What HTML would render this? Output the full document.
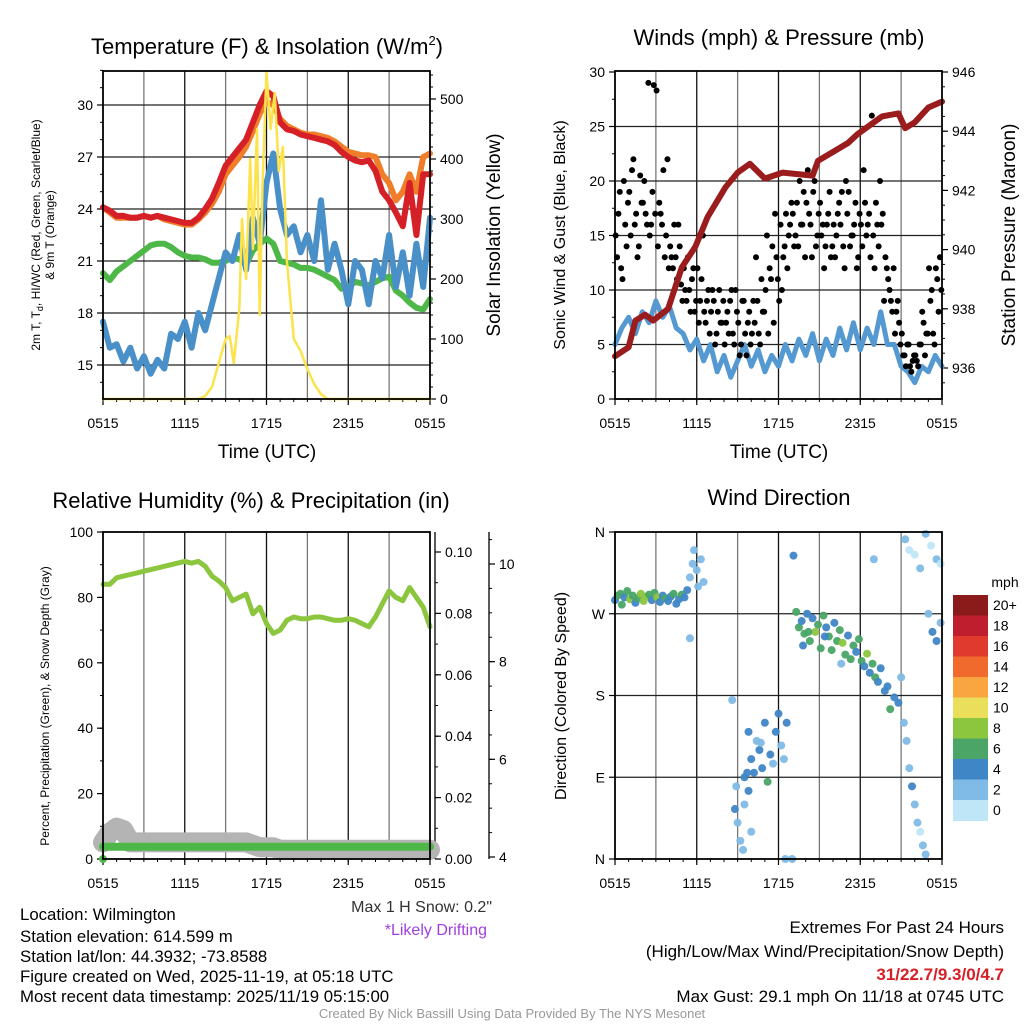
<!DOCTYPE html>
<html><head><meta charset="utf-8"><style>
body{margin:0;background:#fff}
svg{display:block;font-family:"Liberation Sans",sans-serif}
</style></head><body>
<svg id="c" width="1024" height="1024" xmlns="http://www.w3.org/2000/svg">
<g id="g"></g>
<text x="267" y="54" font-size="22" text-anchor="middle">Temperature (F) &amp; Insolation (W/m<tspan font-size="13" dy="-9">2</tspan><tspan dy="9">)</tspan></text>
<text x="779" y="45" font-size="22" text-anchor="middle">Winds (mph) &amp; Pressure (mb)</text>
<text x="251" y="508" font-size="22" text-anchor="middle">Relative Humidity (%) &amp; Precipitation (in)</text>
<text x="779" y="505" font-size="22" text-anchor="middle">Wind Direction</text>
<text x="267" y="458" font-size="19" text-anchor="middle">Time (UTC)</text>
<text x="779" y="458" font-size="19" text-anchor="middle">Time (UTC)</text>
<text transform="translate(40,235) rotate(-90)" font-size="12" text-anchor="middle">2m T, T<tspan font-size="9" dy="3">d</tspan><tspan dy="-3">, HI/WC (Red, Green, Scarlet/Blue)</tspan></text>
<text transform="translate(54,235) rotate(-90)" font-size="12" text-anchor="middle">&amp; 9m T (Orange)</text>
<text transform="translate(500,235) rotate(-90)" font-size="19" text-anchor="middle">Solar Insolation (Yellow)</text>
<text transform="translate(565,235) rotate(-90)" font-size="16" text-anchor="middle">Sonic Wind &amp; Gust (Blue, Black)</text>
<text transform="translate(1015,235) rotate(-90)" font-size="19" text-anchor="middle">Station Pressure (Maroon)</text>
<text transform="translate(49,706) rotate(-90)" font-size="12" text-anchor="middle">Percent, Precipitation (Green), &amp; Snow Depth (Gray)</text>
<text transform="translate(566,696) rotate(-90)" font-size="16" text-anchor="middle">Direction (Colored By Speed)</text>
<text x="492" y="912" font-size="16" text-anchor="end" fill="#333">Max 1 H Snow: 0.2"</text>
<text x="487" y="935" font-size="16" text-anchor="end" fill="#a040e0">*Likely Drifting</text>
<g font-size="16.8">
<text x="20" y="920">Location: Wilmington</text>
<text x="20" y="942">Station elevation: 614.599 m</text>
<text x="20" y="962">Station lat/lon: 44.3932; -73.8588</text>
<text x="20" y="982">Figure created on Wed, 2025-11-19, at 05:18 UTC</text>
<text x="20" y="1002">Most recent data timestamp: 2025/11/19 05:15:00</text>
</g>
<g font-size="17" text-anchor="end">
<text x="1004" y="933">Extremes For Past 24 Hours</text>
<text x="1004" y="957">(High/Low/Max Wind/Precipitation/Snow Depth)</text>
<text x="1004" y="980" fill="#d62027" font-weight="bold">31/22.7/9.3/0/4.7</text>
<text x="1004" y="1002">Max Gust: 29.1 mph On 11/18 at 0745 UTC</text>
</g>
<text x="512" y="1018" font-size="13" fill="#999" text-anchor="middle">Created By Nick Bassill Using Data Provided By The NYS Mesonet</text>
</svg>
<script>
// ---- data (hours since 0515 UTC) ----
const tHours=[0,0.5,1,1.5,2,2.5,3,3.5,4,4.5,5,5.5,6,6.5,7,7.5,8,8.5,9,9.5,10,10.5,11,11.5,12,12.5,13,13.5,14,14.5,15,15.5,16,16.5,17,17.5,18,18.5,19,19.5,20,20.5,21,21.5,22,22.5,23,23.5,24];
const tempRed=[24.1,23.9,23.6,23.6,23.5,23.5,23.6,23.5,23.6,23.5,23.4,23.3,23.2,23.2,23.5,24,24.6,25.5,26.5,27,27.5,28,29,30,30.8,30.5,29,28.6,28.5,28.3,28.2,28.1,28,27.9,27.7,27.3,27,26.8,26.7,26.8,26.2,25,24.5,23.8,23,25.5,22.5,26,26];
const tempOrange=[24.1,23.8,23.5,23.5,23.5,23.5,23.6,23.5,23.6,23.4,23.3,23.2,23.1,23.1,23.4,23.8,24.3,25,26,26.5,27,27.6,28.5,29.5,30.2,30,29.2,28.8,28.6,28.4,28.3,28.3,28.2,28.1,27.9,27.6,27.3,27.2,27.1,27.1,27,26,25.5,24.5,25,26,25,27,27.2];
const tempGreen=[20.3,19.9,20.4,20.7,21,21.3,21.6,21.9,22,22,21.8,21.5,21.3,21.2,21.2,21.1,20.9,20.9,21,21.2,21.1,20.8,21.6,22,22.3,22,21,20.9,20.8,20.6,20.6,20.5,20.3,20.1,19.9,19.4,19.5,19.8,19.7,19.6,19.8,20,20.1,19.3,19,18.6,18.3,18.2,18.8];
const tempBlue=[17.5,16,16.2,15.2,16,14.8,15.5,14.5,15.3,14.8,16.8,16.5,17.5,16,18,17,18.5,20,21.5,21,22.5,20.5,23.5,22,25.5,27.2,24,22.5,23,21.5,22.5,21,24.5,20.5,22,20.5,18.5,21,20.5,18.5,21,20,22.5,19.5,21.5,19,22,19.5,23.5];
const solarHours=[0,7,7.5,8,8.5,9,9.3,9.6,10,10.2,10.5,10.8,11,11.3,11.5,11.7,12,12.3,12.6,12.9,13.2,13.5,14,14.5,15,15.5,16,16.5,24];
const solarVals=[0,0,5,20,60,100,105,60,150,300,200,400,250,450,140,350,545,450,510,380,420,230,100,80,50,25,8,0,0];
const windVals=[5,6.5,7.5,6,8,7,9,7.5,8.5,6.5,6,4.5,5.5,3.5,5,2.5,4,2,3.5,5,3,4.5,2.5,4,3,5,3.5,5.5,4,6,3.5,5.5,4,6.5,4.5,7,4.5,6.5,5,8,5,5,3,2.5,1.5,3,2.5,4,3];
const presHours=[0,1,1.5,2.2,2.8,3.9,4.9,5.9,6.8,8.1,9,9.9,11,12.3,14.5,14.9,17.1,17.8,19.6,20.8,21.3,22,23,24];
const presVals=[936.4,936.7,937.6,937.8,937.6,938,939.4,940.1,941.1,942.1,942.6,942.9,942.4,942.6,942.5,943,943.6,943.9,944.5,944.6,944.1,944.3,944.8,945];
// gusts sampled every 6 minutes, 10 per hour
const gustVals=[
15,13,17,19,12,11,20,16,14,18,
19,15,21,22,16,17,13,14,20.5,18,
18,20,17,16,29,15,16,19,28.8,17,
28.3,14,18,17,16,21,13,15,22,12,
14,13,12,16,13,11,16,14,10.5,9,
12,10,9,13,10,8,11,12,8,9,
12,7,9,11,15,8,7,9,10,6,
8,10,9,5,6,8,10,7,7,9,
5,7,8,6,9,10,6,5,10,8,
7,4,5,9,9,6,4,7,8,5,
6,9,7,13,9,6,5,11,8,8,
10,15,6,12,11,14,7,17,13,11,
9,16,10,13,14,17,12,15,16,18,
17,14,15,18,14,20,16,16,19,13,
18,21,17,16,13,19,20,14,15,17,
18,15,16,12,14,16,17,19,13,14,
16,13,15,17,18,16,19,14,12,20,
17,19,14,15,15,16,18,12,13,17,
16,14,21,18,15,16,17,13,26,15,
12,18,16,14,20,16,17,9,13,12,
11,10,9,8,12,6,8,9,7,5,
6,4,4,3,5,5,3,2.5,3.5,4,
4,3.5,3,5,5,8,7,4,6,6,
12,9,10,6,5,12,11,8,13,10];
const gustHours=gustVals.map((v,i)=>0.05+i*0.1);
const rhVals=[84,84,86,86.5,87,87.5,88,88.5,89,89.5,90,90.5,91,90.5,91,89.5,86.5,85,83,79,80,81,75,77,72,69,70,73,74,73.5,73.5,74,74,73.5,73,73,73.5,73,72,71,74,78,82,80,79,83,80,77,71];
const precipVals=[0.004,0.004,0.004,0.004,0.004,0.004,0.004,0.004,0.004,0.004,0.004,0.004,0.004,0.004,0.004,0.004,0.004,0.004,0.004,0.004,0.004,0.004,0.004,0.004,0.004,0.004,0.004,0.004,0.004,0.004,0.004,0.004,0.004,0.004,0.004,0.004,0.004,0.004,0.004,0.004,0.004,0.004,0.004,0.004,0.004,0.004,0.004,0.004,0.004];
const snowVals=[4.3,4.5,4.6,4.55,4.3,4.3,4.3,4.3,4.3,4.3,4.3,4.3,4.3,4.3,4.3,4.3,4.3,4.3,4.3,4.3,4.3,4.3,4.25,4.2,4.2,4.2,4.15,4.15,4.15,4.15,4.15,4.15,4.15,4.15,4.15,4.15,4.15,4.15,4.15,4.15,4.15,4.15,4.15,4.15,4.15,4.15,4.15,4.15,4.15];
const dirHours=[0,0.2,0.4,0.5,0.7,0.9,1.1,1.3,1.5,1.7,1.9,2.1,2.3,2.5,2.7,2.9,3.1,3.3,3.5,3.7,3.9,4.1,4.3,4.5,4.7,4.9,5.1,5.3,5.5,5.7,5.8,6,6.1,6.3,5.5,6.5,8.6,9.5,9.8,10,10.2,10.4,10.6,10.8,11,11.2,11.4,11.6,11.8,12,12.2,12.4,12.6,9.5,9,9.2,9.4,9.8,10,8.8,8.9,10.7,9.7,12.5,13.1,13,13.3,13.5,13.7,13.9,14.1,14.3,14.5,14.7,14.9,15.1,15.3,15.5,15.7,15.9,16.1,16.3,16.5,16.7,16.9,17.1,17.3,17.5,17.7,17.9,18.1,18.3,18.5,18.7,18.9,19.1,19.3,19.5,19.8,20,20.2,20.5,20.8,19,21,21.2,21.4,21.6,21.8,22,22.2,22.4,22.6,22.8,21.3,21.6,22,22.4,22.8,23.2,23.6,23.9,23,23.3,23.6,23.9,13.8,14.2,15.4,16.6,17.8,18.4];
const dirVals=[285,290,292,280,288,295,286,290,282,287,292,284,289,291,285,293,288,283,290,287,284,289,292,281,286,291,288,296,310,325,340,318,300,330,243,305,175,90,140,110,95,130,120,100,150,85,115,105,140,160,125,110,150,60,40,20,10,75,30,55,80,128,95,0,334,0,272,255,262,248,270,240,265,250,258,232,268,255,245,230,260,240,252,238,225,246,220,235,228,242,218,212,226,205,215,200,195,210,185,190,165,178,172,330,200,150,130,100,80,60,40,30,15,5,352,340,335,320,358,345,330,325,270,250,240,260,235,250,245,215];
const dirSpeeds=[5,6,7,6.5,5,7,8,6,5,7,9,8,9,7,5,6,8,4.5,5,6,4,5,7,4.5,5,6,4,5,3,2.5,3,2,3,2.5,3,2.5,2.5,4.5,4,5,4.5,3,4.5,5,4,6.5,4.5,3,5,4,3.5,3,4,3,2,3,2.5,4.5,3,5,3,3,5,2.5,4.5,3,6,7,5,6.5,4.5,7,5,8.5,6,6.5,7,5,6,7,4.5,6.5,7,8,6,5,7,6.5,4,7,6,5,8,5.5,7,6,5,4.5,4,5,6.5,4.5,5,3,2.5,3,2,3,4.5,2.5,3,1,2,2.5,3,1.5,1,2,3,1.5,2.5,1,2,4.5,5,2.5,5,6,4.5,2,4];
const cbLabels=["20+","18","16","14","12","10","8","6","4","2","0"];
const cbColors=["#8b1a1a","#be1e2d","#e03a2e","#ef6a2c","#f9a640","#e9df5a","#8cc63f","#4aa566","#3f86c6","#7fbbe6","#bfe6f7"];
const timeTicks=["0515","1115","1715","2315","0515"];

// ---- helpers ----
const NS="http://www.w3.org/2000/svg";
const G=document.getElementById('g');
function mk(tag,attrs,parent){const e=document.createElementNS(NS,tag);for(const k in attrs)e.setAttribute(k,attrs[k]);(parent||G).appendChild(e);return e;}
function lin(d0,d1,r0,r1){return v=>r0+(v-d0)*(r1-r0)/(d1-d0);}
function path(xs,ys,fx,fy){return xs.map((x,i)=>(i?'L':'M')+fx(x).toFixed(1)+','+fy(ys[i]).toFixed(1)).join('');}
function colorFor(s){let i=Math.min(10,Math.floor(s/2));return cbColors[10-i];}

function frame(x0,x1,y0,y1,hGrid,name){
  const fx=lin(0,24,x0,x1);
  for(let h=3;h<24;h+=3){const l=mk('line',{x1:fx(h),x2:fx(h),y1:y0,y2:y1,stroke:(h%6?'#777':'#111'),'stroke-width':1.3});
    
    }
  hGrid.forEach(y=>{const l=mk('line',{x1:x0,x2:x1,y1:y,y2:y,stroke:'#222','stroke-width':1.2});
    
    });
  timeTicks.forEach((t,i)=>{const x=fx(i*6);
    const tk=mk('line',{x1:x,x2:x,y1:y1,y2:y1+6,stroke:'#000','stroke-width':1.2});
    
    
    const tx=mk('text',{x:x,y:y1+29,'font-size':14,'text-anchor':'middle'});tx.textContent=t;
    
    });
  for(let h=1;h<24;h++){const tk=mk('line',{x1:fx(h),x2:fx(h),y1:y1,y2:y1+3,stroke:'#000'});
    
    }
  return fx;
}
function box(x0,x1,y0,y1,name){const r=mk('rect',{x:x0,y:y0,width:x1-x0,height:y1-y0,fill:'none',stroke:'#000','stroke-width':1.8});
  
  }
function yaxis(vals,fy,x,side,fmt,name,minor){
  vals.forEach(v=>{const y=fy(v);
    const tk=mk('line',{x1:x,x2:x+side*6,y1:y,y2:y,stroke:'#000','stroke-width':1.2});
    
    
    const t=mk('text',{x:x+side*10,y:y+5,'font-size':14,'text-anchor':side<0?'end':'start'});t.textContent=fmt(v);
    
    });
  (minor||[]).forEach(v=>{const tk=mk('line',{x1:x,x2:x+side*3,y1:fy(v),y2:fy(v),stroke:'#000'});
    
    });
}
function line(xs,ys,fx,fy,color,w,name){const p=mk('path',{d:path(xs,ys,fx,fy),fill:'none',stroke:color,'stroke-width':w,'stroke-linejoin':'round','stroke-linecap':'round'});
  
  }
function rng(a,b,s){const r=[];for(let v=a;v<=b+1e-9;v+=s)r.push(+v.toFixed(4));return r;}

// ---- panel 1: temperature ----
(function(){
  const x0=103,x1=430,y0=71,y1=399;
  const fT=lin(15,30,365,105), fS=lin(0,500,399,99);
  const fx=frame(x0,x1,y0,y1,[15,18,21,24,27,30].map(fT),'temp');
  yaxis([15,18,21,24,27,30],fT,x0,-1,v=>v,'temp-y',rng(14,32,1));
  yaxis([0,100,200,300,400,500],fS,x1,1,v=>v,'solar-y',rng(0,540,20));
  line(tHours,tempOrange,fx,fT,'#f07d2a',6,'orange-9m-temp-line');
  line(tHours,tempRed,fx,fT,'#d62027',6,'red-2m-temp-line');
  line(tHours,tempGreen,fx,fT,'#4db848',6,'green-dewpoint-line');
  line(tHours,tempBlue,fx,fT,'#4a90c8',6,'blue-windchill-line');
  line(solarHours,solarVals,fx,fS,'#fce34b',2.5,'yellow-solar-line');
  box(x0,x1,y0,y1,'temp');
})();

// ---- panel 2: winds ----
(function(){
  const x0=615,x1=942,y0=71,y1=399;
  const fW=lin(0,30,399,72), fP=lin(936,946,368,72);
  const fx=frame(x0,x1,y0,y1,[0,5,10,15,20,25].map(fW),'wind');
  yaxis([0,5,10,15,20,25,30],fW,x0,-1,v=>v,'wind-y',rng(0,30,2.5));
  yaxis([936,938,940,942,944,946],fP,x1,1,v=>v,'pressure-y',rng(935.5,946,0.5));
  line(tHours,windVals,fx,fW,'#5599d2',5,'blue-sonic-wind-line');
  gustHours.forEach((h,i)=>{if(!isFinite(gustVals[i]))return;
    const c=mk('circle',{cx:fx(h),cy:fW(gustVals[i]),r:3,fill:'#000'});
    
    });
  line(presHours,presVals,fx,fP,'#9b1c1c',6,'maroon-pressure-line');
  box(x0,x1,y0,y1,'wind');
})();

// ---- panel 3: humidity ----
(function(){
  const x0=103,x1=430,y0=532,y1=859;
  const fR=lin(0,100,859,532), fPr=lin(0,0.1,859,552), fSn=lin(4,10,857,564);
  const fx=frame(x0,x1,y0,y1,[],'rh');
  yaxis([0,20,40,60,80,100],fR,x0,-1,v=>v,'rh-y',rng(0,100,10));
  yaxis([0,0.02,0.04,0.06,0.08,0.1],fPr,x1+5,1,v=>v.toFixed(2),'precip-y',rng(0,0.105,0.01));
  const ax=mk('line',{x1:489,x2:489,y1:532,y2:859,stroke:'#000','stroke-width':1.3});
  
  
  const ax2=mk('line',{x1:x1+5,x2:x1+5,y1:532,y2:859,stroke:'#000','stroke-width':1.3});
  
  
  yaxis([4,6,8,10],fSn,489,1,v=>v,'snow-y',rng(4,10.5,0.5));
  line(tHours,snowVals,fx,fSn,'#b4b4b4',20,'gray-snow-depth-line');
  line(tHours,precipVals,fx,fPr,'#4db848',8,'green-precip-line');
  const d=mk('circle',{cx:fx(0),cy:fPr(0),r:4,fill:'#4db848'});
  
  
  line(tHours,rhVals,fx,fR,'#8cc63f',5,'green-rh-line');
  box(x0,x1,y0,y1,'rh');
})();

// ---- panel 4: wind direction ----
(function(){
  const x0=615,x1=942,y0=532,y1=859;
  const fD=lin(0,360,859,532);
  const fx=frame(x0,x1,y0,y1,[90,180,270].map(fD),'dir');
  yaxis([0,90,180,270,360],fD,x0,-1,v=>['N','E','S','W','N'][v/90],'dir-y');
  dirHours.forEach((h,i)=>{if(!isFinite(dirVals[i])||!isFinite(dirSpeeds[i]))return;
    const c=mk('circle',{cx:fx(h),cy:fD(dirVals[i]),r:4,fill:colorFor(dirSpeeds[i]),'fill-opacity':0.95});
    
    });
  box(x0,x1,y0,y1,'dir');
  const t=mk('text',{x:1005,y:587,'font-size':14,'text-anchor':'middle'});t.textContent='mph';
  
  
  const hgt=20.5;
  cbColors.forEach((c,i)=>{const r=mk('rect',{x:953,y:595+i*hgt,width:35,height:hgt+0.5,fill:c});
    
    
    const l=mk('text',{x:993,y:595+i*hgt+15,'font-size':14});l.textContent=cbLabels[i];
    
    });
})();
</script>
</body></html>
